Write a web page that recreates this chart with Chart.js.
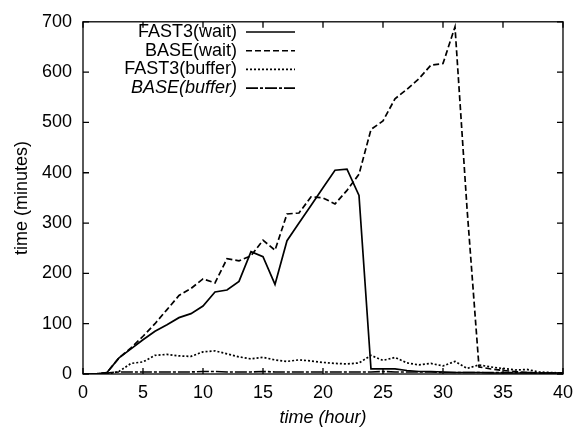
<!DOCTYPE html>
<html>
<head>
<meta charset="utf-8">
<script src="https://cdn.jsdelivr.net/npm/chart.js@4"></script>
<style>
  html, body { margin: 0; padding: 0; background: #fff; }
  #wrap { width: 581px; height: 427px; }
</style>
</head>
<body>
<div id="wrap"><canvas id="chart" width="581" height="427"></canvas></div>
<script>
// hours 0..40
const hours = [0,1,2,3,4,5,6,7,8,9,10,11,12,13,14,15,16,17,18,19,20,21,22,23,24,25,26,27,28,29,30,31,32,33,34,35,36,37,38,39,40];

const fast3Wait  = [0,0,3,32,50,68,85,98,112,120,135,163,167,184,243,233,178,265,300,335,370,405,407,355,10,10,10,7,5,5,4,3,3,3,2,2,2,2,2,2,2];
const baseWait   = [0,0,3,32,52,75,100,128,156,170,189,181,229,225,235,266,246,318,320,352,350,338,365,397,486,503,547,566,587,614,617,690,330,14,10,7,5,3,2,2,2];
const fast3Buf   = [0,0,0,5,21,24,37,39,36,35,44,46,40,34,30,33,28,25,28,26,23,21,20,22,37,27,33,22,18,21,16,25,11,18,14,11,8,9,4,3,2];
const baseBuf    = [0,0,2,4,4,4,4,4,4,4,5,5,4,4,4,5,4,4,4,4,4,4,4,4,4,5,4,4,4,4,3,3,3,3,3,3,3,3,2,2,2];

const xTicks = [0,5,10,15,20,25,30,35,40];
const yTicks = [0,100,200,300,400,500,600,700];

const series = [
  { label: 'FAST3(wait)',  values: fast3Wait, dash: [],            italic: false },
  { label: 'BASE(wait)',   values: baseWait,  dash: [6, 3],        italic: false },
  { label: 'FAST3(buffer)',values: fast3Buf,  dash: [2, 2],        italic: false },
  { label: 'BASE(buffer)', values: baseBuf,   dash: [12, 2, 3, 2], italic: true }
];

const FONT = 'Liberation Sans, Arial, sans-serif';

const frame = {
  id: 'frame',
  afterDatasetsDraw(chart) {
    const { ctx, chartArea: a, scales: { x, y } } = chart;
    ctx.save();
    ctx.strokeStyle = '#000';
    ctx.lineWidth = 1.3;
    ctx.setLineDash([]);
    ctx.strokeRect(a.left, a.top, a.right - a.left, a.bottom - a.top);
    ctx.beginPath();
    xTicks.forEach(v => {
      const px = x.getPixelForValue(v);
      ctx.moveTo(px, a.bottom); ctx.lineTo(px, a.bottom - 6);
      ctx.moveTo(px, a.top);    ctx.lineTo(px, a.top + 6);
    });
    yTicks.forEach(v => {
      const py = y.getPixelForValue(v);
      ctx.moveTo(a.left, py);  ctx.lineTo(a.left + 6, py);
      ctx.moveTo(a.right, py); ctx.lineTo(a.right - 6, py);
    });
    ctx.stroke();

    // legend, gnuplot style: text right aligned, sample line after it
    ctx.fillStyle = '#000';
    ctx.textAlign = 'right';
    ctx.textBaseline = 'middle';
    series.forEach((s, i) => {
      const ly = 32 + i * 18.7;
      ctx.font = (s.italic ? 'italic ' : '') + '18px ' + FONT;
      ctx.fillText(s.label, 237, ly);
      ctx.beginPath();
      ctx.setLineDash(s.dash);
      ctx.lineWidth = 1.6;
      ctx.moveTo(246, ly); ctx.lineTo(295, ly);
      ctx.stroke();
    });
    ctx.restore();
  }
};

new Chart(document.getElementById('chart'), {
  type: 'line',
  data: {
    datasets: series.map(s => ({
      label: s.label,
      data: hours.map((h, i) => ({ x: h, y: s.values[i] })),
      borderColor: '#000',
      borderWidth: 1.7,
      borderDash: s.dash,
      pointRadius: 0,
      tension: 0,
      fill: false
    }))
  },
  options: {
    responsive: false,
    animation: false,
    layout: { padding: { left: 0, right: 18, top: 17, bottom: 0 } },
    plugins: { legend: { display: false }, tooltip: { enabled: false } },
    scales: {
      x: {
        type: 'linear', min: 0, max: 40,
        afterFit: s => { s.height = 53; },
        afterBuildTicks: s => { s.ticks = xTicks.map(v => ({ value: v })); },
        grid: { display: false, drawTicks: false },
        border: { display: false },
        ticks: { color: '#000', font: { family: FONT, size: 18 }, padding: 8, maxRotation: 0 },
        title: { display: true, text: 'time (hour)', color: '#000', font: { family: FONT, size: 18, style: 'italic', lineHeight: 1 }, padding: { top: 0, bottom: 0 } }
      },
      y: {
        min: 0, max: 700,
        afterFit: s => { s.width = 83; },
        afterBuildTicks: s => { s.ticks = yTicks.map(v => ({ value: v })); },
        grid: { display: false, drawTicks: false },
        border: { display: false },
        ticks: { color: '#000', font: { family: FONT, size: 18 }, padding: 11 },
        title: { display: true, text: 'time (minutes)', color: '#000', font: { family: FONT, size: 18, lineHeight: 1 }, padding: { top: 13, bottom: 0 } }
      }
    }
  },
  plugins: [frame]
});
</script>
</body>
</html>
